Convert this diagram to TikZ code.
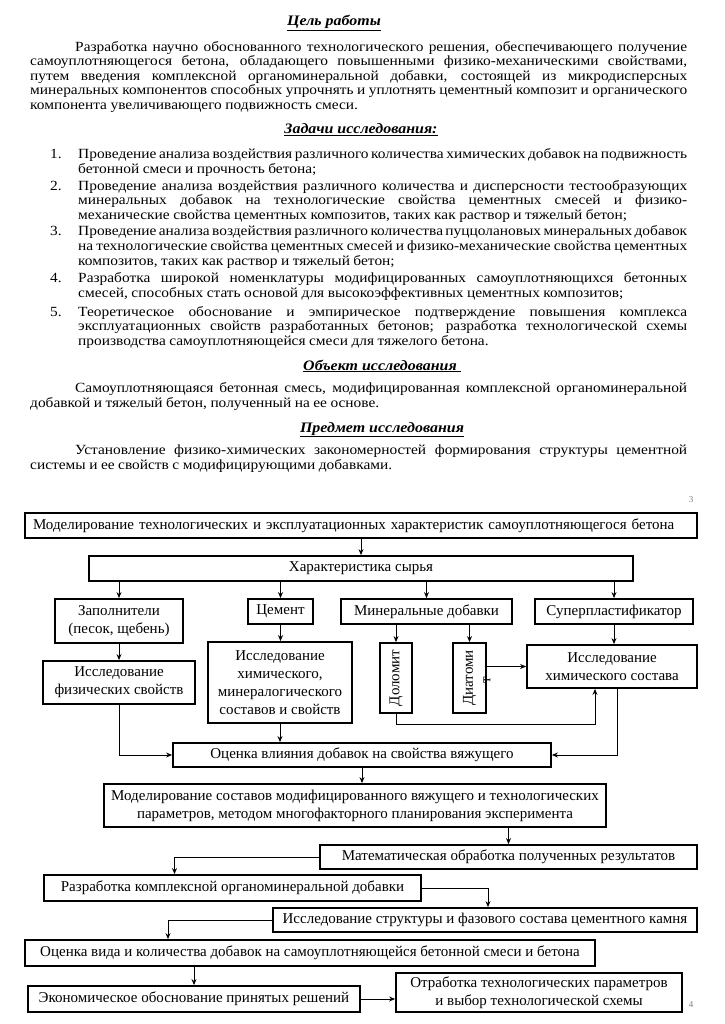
\documentclass[tikz,border=0pt]{standalone}
\usepackage{fontspec}
\usepackage{graphicx}
\setmainfont{Liberation Serif}
\newfontfamily\bodyfont[FakeStretch=1.1]{Liberation Serif}
\usetikzlibrary{positioning,calc,arrows.meta}
\newcommand{\bodytext}{\bodyfont\fontsize{14}{14.5}\selectfont\spaceskip=0.25em plus 0.6em minus 0.1em\relax}
\newcommand{\headtext}{\bodyfont\fontsize{14.5}{14.5}\selectfont\bfseries\itshape}
\newcommand{\diatext}{\fontsize{15}{18}\selectfont}
\newcommand{\headline}[1]{\underline{#1}}

\tikzset{
  box/.style={draw, line width=1.8pt, align=center, inner sep=2pt, font=\diatext},
  link/.style={-{Stealth[length=6pt,width=5pt]}, line width=1pt},
  para/.style={anchor=base west, inner sep=0pt, align=justify, font=\bodytext},
  head/.style={anchor=base, inner sep=0pt, font=\headtext},
  pagenum/.style={inner sep=0pt, font=\fontsize{9}{10}\selectfont, text=gray},
}

\begin{document}
\begin{tikzpicture}[x=1pt,y=-1pt]
\useasboundingbox (0,0) rectangle (724,1024);

% text part
\node[head] (aimhead) at (334,26) {\headline{Цель работы}};
\node[para, text width=657pt] (aim) at (30,51.5) {\hspace*{45pt}Разработка научно обоснованного технологического решения, обеспечивающего получение\linebreak
самоуплотняющегося бетона, обладающего повышенными физико-механическими свойствами,\linebreak
путем введения комплексной органоминеральной добавки, состоящей из микродисперсных\linebreak
минеральных компонентов способных упрочнять и уплотнять цементный композит и органического\linebreak
компонента увеличивающего подвижность смеси.};

\node[head] (taskhead) at (361,134) {\headline{Задачи исследования:}};
\node[para] (n1) at (50,159) {1.};
\node[para, text width=609pt] (t1) at (78,159) {Проведение анализа воздействия различного количества химических добавок на подвижность\linebreak
бетонной смеси и прочность бетона;};
\node[para] (n2) at (50,190.5) {2.};
\node[para, text width=609pt] (t2) at (78,190.5) {Проведение анализа воздействия различного количества и дисперсности тестообразующих\linebreak
минеральных добавок на технологические свойства цементных смесей и физико-\linebreak
механические свойства цементных композитов, таких как раствор и тяжелый бетон;};
\node[para] (n3) at (50,236) {3.};
\node[para, text width=609pt] (t3) at (78,236) {Проведение анализа воздействия различного количества пуццолановых минеральных добавок\linebreak
на технологические свойства цементных смесей и физико-механические свойства цементных\linebreak
композитов, таких как раствор и тяжелый бетон;};
\node[para] (n4) at (50,282.5) {4.};
\node[para, text width=609pt] (t4) at (78,282.5) {Разработка широкой номенклатуры модифицированных самоуплотняющихся бетонных\linebreak
смесей, способных стать основой для высокоэффективных цементных композитов;};
\node[para] (n5) at (50,316) {5.};
\node[para, text width=609pt] (t5) at (78,316) {Теоретическое обоснование и эмпирическое подтверждение повышения комплекса\linebreak
эксплуатационных свойств разработанных бетонов; разработка технологической схемы\linebreak
производства самоуплотняющейся смеси для тяжелого бетона.};

\node[head] (objhead) at (382,370) {\headline{Объект исследования\ }};
\node[para, text width=657pt] (obj) at (30,392.5) {\hspace*{45pt}Самоуплотняющаяся бетонная смесь, модифицированная комплексной органоминеральной\linebreak
добавкой и тяжелый бетон, полученный на ее основе.};

\node[head] (subjhead) at (382,432) {\headline{Предмет исследования}};
\node[para, text width=657pt] (subj) at (30,454.5) {\hspace*{45pt}Установление физико-химических закономерностей формирования структуры цементной\linebreak
системы и ее свойств с модифицирующими добавками.};

\node[pagenum] (p3) at (691,500) {3};
\node[pagenum] (p4) at (691,1005) {4};

% diagram
\node[box, text width=656pt, align=left, inner sep=8pt, minimum height=25pt, inner ysep=2pt] (model) at (361,525.5) {Моделирование технологических и эксплуатационных характеристик самоуплотняющегося бетона};
\node[box, minimum width=544pt, minimum height=25pt] (raw) at (361,568.5) {Характеристика сырья};

\node[box, minimum width=128pt, minimum height=44pt] (fill) at (119,621) {Заполнители\\(песок, щебень)};
\node[box, minimum width=65pt, minimum height=25pt] (cem) at (280.5,611.5) {Цемент};
\node[box, minimum width=171pt, minimum height=25pt] (mineral) at (426.5,611.5) {Минеральные добавки};
\node[box, minimum width=158pt, minimum height=25pt] (superp) at (614,611.5) {Суперпластификатор};

\node[box, minimum width=152pt, minimum height=43pt] (phys) at (119,682.5) {Исследование\\физических свойств};
\node[box, minimum width=144pt, minimum height=81pt] (chemmin) at (280,682.5) {Исследование\\химического,\\минералогического\\составов и свойств};
\node[box, minimum width=32pt, minimum height=70pt] (dolo) at (396,678) {\rotatebox{90}{Доломит}};
\node[box, minimum width=33pt, minimum height=70pt] (diat) at (469.5,678) {\rotatebox{90}{Диатоми}};
\node[font=\diatext, rotate=90, inner sep=0pt] (stray) at (487,680) {т};
\node[box, minimum width=170pt, minimum height=43pt] (chem) at (612,666.5) {Исследование\\химического состава};

\node[box, minimum width=378pt, minimum height=24pt] (eval) at (362,755) {Оценка влияния добавок на свойства вяжущего};
\node[box, minimum width=502pt, minimum height=43pt] (mod2) at (355,805.5) {Моделирование составов модифицированного вяжущего и технологических\\параметров, методом многофакторного планирования эксперимента};
\node[box, minimum width=377pt, minimum height=24pt] (math) at (508.5,857) {Математическая обработка полученных результатов};
\node[box, minimum width=377pt, minimum height=26pt] (dev) at (232.5,888) {Разработка комплексной органоминеральной добавки};
\node[box, minimum width=424pt, minimum height=24pt] (struct) at (485,920) {Исследование структуры и фазового состава цементного камня};
\node[box, minimum width=570pt, minimum height=26pt] (evalb) at (310,953) {Оценка вида и количества добавок на самоуплотняющейся бетонной смеси и бетона};
\node[box, minimum width=332pt, minimum height=26pt] (econ) at (194,999) {Экономическое обоснование принятых решений};
\node[box, minimum width=286pt, minimum height=39pt] (tech) at (539,992.5) {Отработка технологических параметров\\и выбор технологической схемы};

% connectors
\draw[link] (model) -- (raw);
\foreach \n in {fill,cem,mineral,superp}
  \draw[link] (raw.south -| \n.north) -- (\n.north);
\draw[link] (fill) -- (phys);
\draw[link] (cem.south) -- (cem.south |- chemmin.north);
\draw[link] (mineral.south -| dolo.north) -- (dolo.north);
\draw[link] (mineral.south -| diat.north) -- (diat.north);
\draw[link] (superp.south) -- (superp.south |- chem.north);
\draw[link] (diat.east |- chem.west) -- (chem.west);
\draw[link] (phys.south) |- (eval.west);
\draw[link] (chemmin.south) -- (chemmin.south |- eval.north);
\draw[link] ([xshift=5pt]chem.south) |- (eval.east);
\coordinate (dolojoin) at ([xshift=-17pt]chem.south);
\draw[link] (dolo.south) -- ++(0,11) -| (dolojoin);
\draw[link] (eval.south) -- (eval.south |- mod2.north);
\draw[link] (math.north |- mod2.south) -- (math.north);
\draw[link] (math.west) -| ([xshift=-58pt]dev.north);
\draw[link] (dev.east) -| ([xshift=3pt]struct.north);
\draw[link] (struct.west) -| ([xshift=-142pt]evalb.north);
\draw[link] (econ.north |- evalb.south) -- (econ.north);
\draw[link] (econ.east) -- (econ.east -| tech.west);
\end{tikzpicture}
\end{document}
